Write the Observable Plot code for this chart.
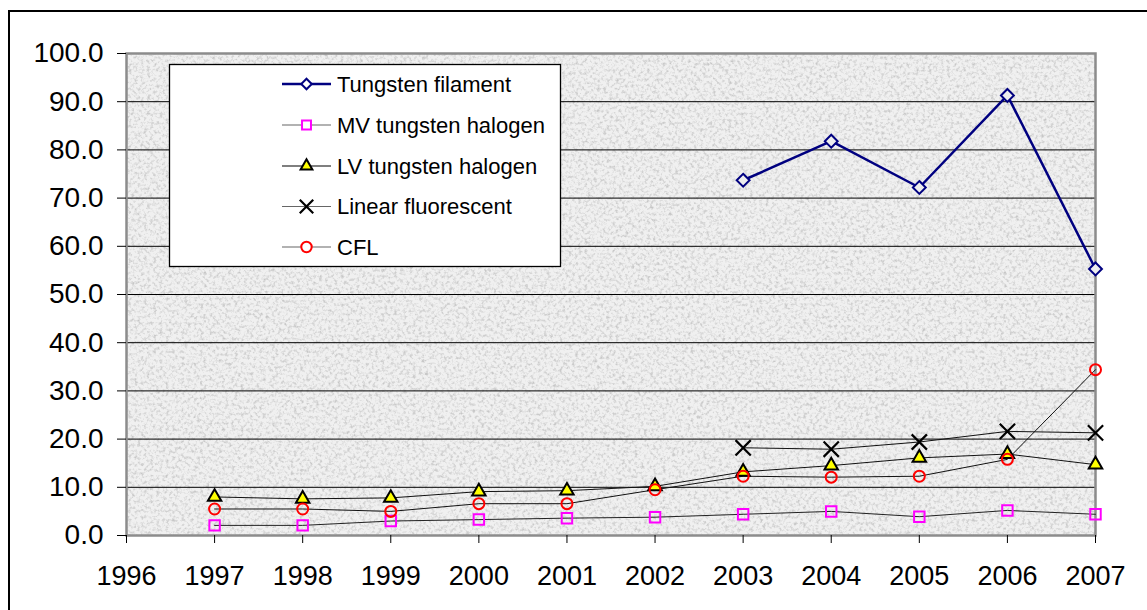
<!DOCTYPE html>
<html>
<head>
<meta charset="utf-8">
<script src="https://cdn.jsdelivr.net/npm/d3@7"></script>
<script src="https://cdn.jsdelivr.net/npm/@observablehq/plot@0.6"></script>
<style>
  html, body { margin: 0; padding: 0; background: #fff; overflow: hidden; }
  body { width: 1147px; height: 610px; position: relative; font-family: "Liberation Sans", Arial, sans-serif; }
  #frame { position: absolute; left: 8px; top: 10px; width: 1200px; height: 700px; border: 2px solid #000; box-sizing: border-box; }
  #chart { position: absolute; left: 0; top: 0; }
</style>
</head>
<body>
<div id="frame"></div>
<div id="chart"></div>
<script>
const years = [1997, 1998, 1999, 2000, 2001, 2002, 2003, 2004, 2005, 2006, 2007];
const tungstenFilament = [null, null, null, null, null, null, 73.7, 81.8, 72.2, 91.3, 55.3];
const mvHalogen = [2.1, 2.1, 3.0, 3.3, 3.6, 3.8, 4.4, 5.0, 3.9, 5.2, 4.4];
const lvHalogen = [8.0, 7.6, 7.8, 9.1, 9.3, 10.2, 13.2, 14.5, 16.1, 16.9, 14.7];
const linearFluorescent = [null, null, null, null, null, null, 18.2, 17.9, 19.4, 21.6, 21.3];
const cfl = [5.5, 5.5, 5.0, 6.6, 6.6, 9.5, 12.3, 12.1, 12.3, 15.8, 34.4];
const seriesNames = ["Tungsten filament", "MV tungsten halogen", "LV tungsten halogen", "Linear fluorescent", "CFL"];
const xTicks = [1996, 1997, 1998, 1999, 2000, 2001, 2002, 2003, 2004, 2005, 2006, 2007];
const yTicks = [0, 10, 20, 30, 40, 50, 60, 70, 80, 90, 100];
const gridValues = [10, 20, 30, 40, 50, 60, 70, 80, 90];

const seriesValues = [tungstenFilament, mvHalogen, lvHalogen, linearFluorescent, cfl];
const styles = [
  {line: "#000080", lw: 2.5, symbol: "diamond2", stroke: "#000080", fill: "#eeeeee", r: 5.8, sw: 2, lgLine: "#000080"},
  {line: "#222", lw: 1, symbol: "square", stroke: "#ff00ff", fill: "none", r: 5.9, sw: 2, lgLine: "#666"},
  {line: "#111", lw: 1, symbol: "triangle", stroke: "#000", fill: "#ffff00", r: 5, sw: 2, lgLine: "#000"},
  {line: "#111", lw: 1, symbol: "times", stroke: "#000", fill: "none", r: 7, sw: 2.2, lgLine: "#666"},
  {line: "#111", lw: 1, symbol: "circle", stroke: "#ff0000", fill: "none", r: 5.5, sw: 2, lgLine: "#666"}
];

const marks = [
  Plot.frame({fill: "#f0f0f0", stroke: "none"}),
  Plot.ruleY(gridValues, {stroke: "#000", strokeWidth: 1}),
  Plot.frame({fill: "none", stroke: "#8c8c8c", strokeWidth: 2.5}),
  Plot.axisY({ticks: yTicks, tickFormat: d => d.toFixed(1), tickSize: 9, tickPadding: 14, fontSize: 28, label: null, stroke: "#000"}),
  Plot.axisX({ticks: xTicks, tickFormat: d => String(d), tickSize: 8, tickPadding: 22, fontSize: 27, label: null, stroke: "#000"})
];

seriesValues.forEach((vals, i) => {
  const data = years.map((y, j) => ({year: y, value: vals[j]})).filter(d => d.value != null);
  const s = styles[i];
  marks.push(Plot.line(data, {x: "year", y: "value", stroke: s.line, strokeWidth: s.lw}));
});
seriesValues.forEach((vals, i) => {
  const data = years.map((y, j) => ({year: y, value: vals[j]})).filter(d => d.value != null);
  const s = styles[i];
  marks.push(Plot.dot(data, {x: "year", y: "value", symbol: () => s.symbol, r: s.r, stroke: s.stroke, fill: s.fill, strokeWidth: s.sw}));
});

const chart = Plot.plot({
  width: 1147,
  height: 610,
  marginLeft: 126,
  marginRight: 52,
  marginTop: 53,
  marginBottom: 75,
  style: {background: "transparent", fontFamily: "'Liberation Sans', Arial, sans-serif", color: "#000", overflow: "visible"},
  x: {domain: [1996, 2007], axis: null},
  y: {domain: [0, 100], axis: null},
  symbol: {type: "identity"},
  marks
});

// granite texture on the plotting area background
const svg = d3.select(chart);
const defs = svg.insert("defs", ":first-child");
const f = defs.append("filter").attr("id", "granite").attr("x", 0).attr("y", 0).attr("width", 1).attr("height", 1)
  .attr("color-interpolation-filters", "sRGB");
f.append("feTurbulence").attr("type", "fractalNoise").attr("baseFrequency", 0.32).attr("numOctaves", 3).attr("seed", 7).attr("result", "noise");
f.append("feColorMatrix").attr("in", "noise").attr("type", "matrix")
  .attr("values", "0 0 0 0 0.78  0 0 0 0 0.78  0 0 0 0 0.78  2.6 0 0 0 -1.2").attr("result", "dots");
f.append("feComposite").attr("in", "dots").attr("in2", "SourceGraphic").attr("operator", "atop");
const bgRect = chart.querySelector("[aria-label='frame']");
if (bgRect) {
  const r = bgRect.tagName === "rect" ? bgRect : bgRect.querySelector("rect");
  if (r) r.setAttribute("filter", "url(#granite)");
}

// Legend
const lg = svg.append("g").attr("font-family", "'Liberation Sans', Arial, sans-serif").attr("font-size", 22).attr("text-anchor", "start");
lg.append("rect").attr("x", 169.5).attr("y", 64.5).attr("width", 391).attr("height", 202).attr("fill", "#fff").attr("stroke", "#000").attr("stroke-width", 1.3);
const rowY = [84, 125, 166, 206.5, 247];
const sym = {diamond2: d3.symbolDiamond2, square: d3.symbolSquare, triangle: d3.symbolTriangle, times: d3.symbolTimes, circle: d3.symbolCircle};
seriesNames.forEach((name, i) => {
  const s = styles[i];
  const y = rowY[i];
  lg.append("line").attr("x1", 282).attr("x2", 331).attr("y1", y).attr("y2", y).attr("stroke", s.lgLine).attr("stroke-width", i === 0 ? 2.5 : 1.2);
  const size = [70, 80, 60, 120, 85][i];
  lg.append("path").attr("d", d3.symbol(sym[s.symbol], size)()).attr("transform", `translate(306.5,${y})`)
    .attr("fill", s.fill === "none" || i === 0 ? "#fff" : s.fill).attr("stroke", s.stroke).attr("stroke-width", s.sw);
  lg.append("text").attr("x", 337).attr("y", y).attr("dy", "0.36em").attr("fill", "#000").text(name);
});

document.getElementById("chart").appendChild(chart);
</script>
</body>
</html>
